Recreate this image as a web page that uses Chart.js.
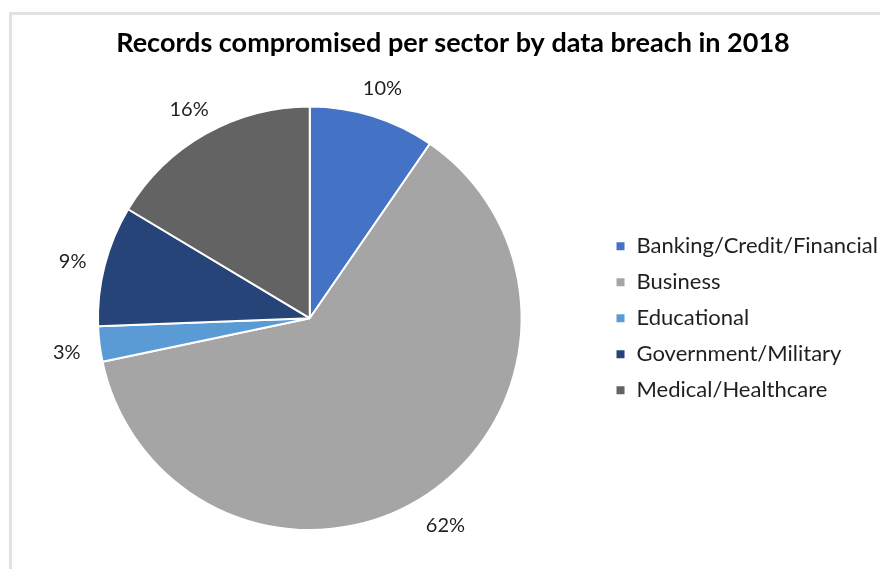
<!DOCTYPE html>
<html>
<head>
<meta charset="utf-8">
<script src="https://cdn.jsdelivr.net/npm/chart.js@4/dist/chart.umd.min.js"></script>
<style>
  body { margin: 0; background: #fff; }
  #wrap { position: relative; width: 880px; height: 569px; overflow: hidden; }
  #frame {
    position: absolute; left: 9px; top: 12px; right: -5px; bottom: -5px;
    border-top: 3px solid #e2e2e2; border-left: 3px solid #e2e2e2;
  }
  canvas { position: absolute; left: 0; top: 0; }
</style>
</head>
<body>
<div id="wrap">
  <div id="frame"></div>
  <canvas id="myChart" width="880" height="569"></canvas>
</div>
<script>
const sectors = [
  "Banking/Credit/Financial",
  "Business",
  "Educational",
  "Government/Military",
  "Medical/Healthcare"
];
// share of records compromised, percent
const shares = [9.6, 62.1, 2.7, 9.2, 16.4];
const sectorColors = ["#4472c4", "#a5a5a5", "#5b9bd5", "#264478", "#636363"];

const ctx = document.getElementById("myChart").getContext("2d");

// percentage labels just outside each slice
const outsideLabels = {
  id: "outsideLabels",
  afterDatasetsDraw: chart => {
    const c = chart.ctx;
    const meta = chart.getDatasetMeta(0);
    const data = chart.data.datasets[0].data;
    const total = data.reduce((a, b) => a + b, 0);
    c.save();
    c.font = "20px Lato";
    c.fillStyle = "#1f1f1f";
    c.textAlign = "center";
    c.textBaseline = "middle";
    meta.data.forEach((arc, i) => {
      const p = arc.getProps(["x", "y", "startAngle", "endAngle", "outerRadius"], true);
      const mid = (p.startAngle + p.endAngle) / 2;
      const r = p.outerRadius + 33;
      c.fillText(Math.round(data[i] / total * 100) + "%", p.x + Math.cos(mid) * r, p.y + Math.sin(mid) * r + 4);
    });
    c.restore();
  }
};

// keep the legend block vertically centred on the pie
const centreLegend = {
  id: "centreLegend",
  afterLayout: chart => {
    const lg = chart.legend;
    const area = chart.chartArea;
    const d = (area.top + area.bottom) / 2 - (lg.top + lg.bottom) / 2;
    lg.top += d;
    lg.bottom += d;
  }
};

const myChart = new Chart(ctx, {
  type: "pie",
  plugins: [outsideLabels, centreLegend],
  data: {
    labels: sectors,
    datasets: [
      {
        data: shares,
        backgroundColor: sectorColors,
        borderColor: "#ffffff",
        borderWidth: 2
      }
    ]
  },
  options: {
    responsive: false,
    animation: false,
    layout: {
      padding: { left: 18, right: -8, top: 0, bottom: 38 }
    },
    plugins: {
      title: {
        display: true,
        text: "Records compromised per sector by data breach in 2018",
        color: "#000000",
        font: { family: "Lato", size: 27, weight: "bold" },
        padding: { top: 27, bottom: 46 }
      },
      legend: {
        position: "right",
        labels: {
          boxWidth: 10,
          boxHeight: 10,
          padding: 14,
          color: "#1f1f1f",
          font: { family: "Lato", size: 22 }
        }
      },
      tooltip: { enabled: false }
    }
  }
});
</script>
</body>
</html>
